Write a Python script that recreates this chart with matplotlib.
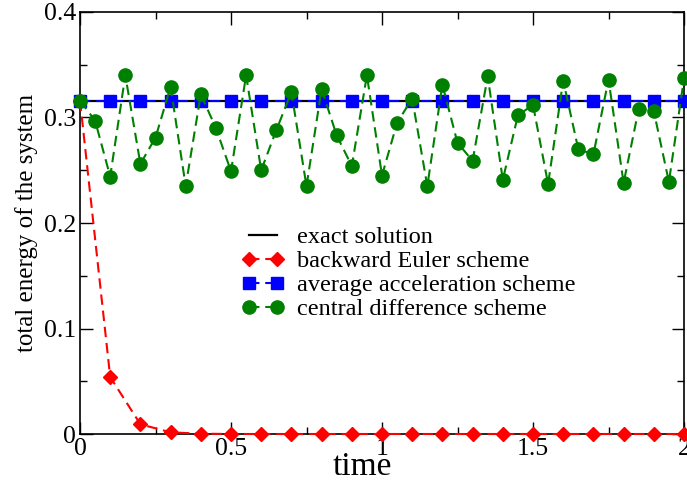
import numpy as np
import matplotlib
matplotlib.use("Agg")
import matplotlib.pyplot as plt
from matplotlib.ticker import MultipleLocator

plt.rcParams['font.family'] = ['Liberation Serif', 'DejaVu Serif']

# exact solution
t_exact = [0.0, 2.0]
e_exact = [0.316, 0.316]

# backward Euler (dt = 0.1)
t_be = [0.0, 0.1, 0.2, 0.3, 0.4, 0.5, 0.6, 0.7, 0.8, 0.9, 1.0,
        1.1, 1.2, 1.3, 1.4, 1.5, 1.6, 1.7, 1.8, 1.9, 2.0]
e_be = [0.316, 0.054, 0.0092, 0.0016, 0.0003, 0.0, 0.0, 0.0, 0.0, 0.0, 0.0,
        0.0, 0.0, 0.0, 0.0, 0.0, 0.0, 0.0, 0.0, 0.0, 0.0]

# average acceleration (dt = 0.1)
t_aa = t_be
e_aa = [0.316] * 21

# central difference (dt = 0.05)
t_cd = [0.00, 0.05, 0.10, 0.15, 0.20, 0.25, 0.30, 0.35, 0.40, 0.45, 0.50,
        0.55, 0.60, 0.65, 0.70, 0.75, 0.80, 0.85, 0.90, 0.95, 1.00,
        1.05, 1.10, 1.15, 1.20, 1.25, 1.30, 1.35, 1.40, 1.45, 1.50,
        1.55, 1.60, 1.65, 1.70, 1.75, 1.80, 1.85, 1.90, 1.95, 2.00]
e_cd = [0.316, 0.297, 0.244, 0.340, 0.256, 0.281, 0.329, 0.235, 0.322, 0.290, 0.249,
        0.340, 0.250, 0.288, 0.324, 0.235, 0.327, 0.283, 0.254, 0.340, 0.245,
        0.295, 0.318, 0.235, 0.331, 0.276, 0.259, 0.339, 0.241, 0.302, 0.312,
        0.237, 0.335, 0.270, 0.265, 0.336, 0.238, 0.308, 0.306, 0.239, 0.337]

fig = plt.figure(figsize=(6.87, 4.86), dpi=100)
ax = fig.add_axes([80/687, 52/486, 604/687, 422/486])

dash = [5, 2.8]
ax.plot(t_exact, e_exact, color='black', lw=1.6, label='exact solution', zorder=2)
ax.plot(t_be, e_be, color='#ff0000', lw=1.5, dashes=dash, marker='D', ms=7.5,
        mec='#ff0000', label='backward Euler scheme', zorder=3, clip_on=False)
ax.plot(t_aa, e_aa, color='#0000ff', lw=1.5, dashes=dash, marker='s', ms=8,
        mec='#0000ff', label='average acceleration scheme', zorder=3, clip_on=False)
ax.plot(t_cd, e_cd, color='#008000', lw=1.5, dashes=dash, marker='o', ms=9.5,
        mec='#008000', label='central difference scheme', zorder=4, clip_on=False)

ax.set_xlim(0, 2)
ax.set_ylim(0, 0.4)
ax.xaxis.set_minor_locator(MultipleLocator(0.25))
ax.yaxis.set_minor_locator(MultipleLocator(0.05))
ax.set_xticks([0, 0.5, 1, 1.5, 2])
ax.set_xticklabels(['0', '0.5', '1', '1.5', '2'])
ax.set_yticks([0, 0.1, 0.2, 0.3, 0.4])
ax.set_yticklabels(['0', '0.1', '0.2', '0.3', '0.4'])
ax.tick_params(which='both', direction='in', top=True, right=True, width=1)
ax.tick_params(which='major', length=9, labelsize=18.5, pad=3)
ax.tick_params(which='minor', length=5)
for s in ax.spines.values():
    s.set_linewidth(1.2)

ax.set_xlabel('time', fontsize=24)
ax.xaxis.set_label_coords(0.467, -0.078)
ax.xaxis.label.set_va('center')
ax.set_ylabel('total energy of the system', fontsize=18, labelpad=4)

leg = ax.legend(loc='upper left', bbox_to_anchor=(0.268, 0.492), frameon=False,
                fontsize=17.5, numpoints=2, handlelength=1.75, handletextpad=0.5,
                labelspacing=0.08, borderpad=0, borderaxespad=0)

fig.savefig('out.png', dpi=100)
